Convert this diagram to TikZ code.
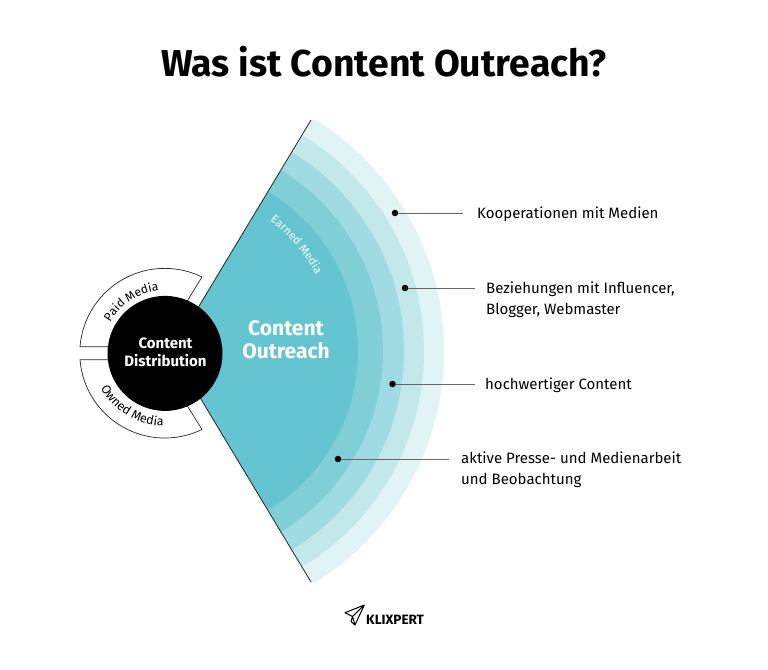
\documentclass[tikz,border=0pt]{standalone}
\usepackage{fontspec}
\setmainfont{Fira Sans}
\usetikzlibrary{decorations.text}
\definecolor{ringa}{HTML}{64C4CF}
\definecolor{ringb}{HTML}{80CFD7}
\definecolor{ringc}{HTML}{A0DBE3}
\definecolor{ringd}{HTML}{C3E8E9}
\definecolor{ringe}{HTML}{E0F3F5}
\tikzset{
  lab/.style={anchor=west,inner sep=0pt,font=\fontsize{15}{21}\selectfont,align=left,text=black},
  dotn/.style={circle,fill=black,inner sep=0pt,minimum size=6.5pt},
  lead/.style={draw=black!60,line width=0.9pt},
  halfring/.style={draw=black!85,fill=white,line width=0.7pt},
  edge/.style={draw=black!85,line width=0.8pt},
}
\begin{document}
\begin{tikzpicture}[x=1pt,y=-1pt]
\useasboundingbox (0,0) rectangle (768,669);
\node[font=\fontsize{37.4}{40}\bfseries\selectfont] (title) at (384,62) {Was ist Content Outreach?};
\coordinate (apex) at (172,351);
\coordinate (outertop) at (311,120);
\coordinate (outerbot) at (311,582);
% wedge rings
\foreach \r/\c in {272/ringe,252/ringd,232/ringc,211/ringb,186/ringa}{
  \begin{scope}
    \clip (apex) -- (outertop) -- ++(200,0) |- (outerbot) -- cycle;
    \fill[\c] (apex) circle[radius=\r];
  \end{scope}
}
\draw[edge] (outertop) -- (apex) -- (outerbot);
% media rings
\coordinate (cc) at (165,353.4);
\draw[halfring] (80,346.7) arc[start angle=-175.5,end angle=-64,radius=85] -- (188.3,299.3) -- (165,346.7) -- cycle;
\draw[halfring] (80,359.7) arc[start angle=175.5,end angle=64,radius=85] -- (188.3,407.5) -- (165,359.7) -- cycle;
\node[circle,fill=black,minimum size=115pt,inner sep=0pt] (dist) at (cc) {};
\node[text=white,align=center,font=\fontsize{15}{17.5}\bfseries\selectfont] (distl) at (165.5,352.5) {Content\\Distribution};
\path[postaction={decorate},decoration={text along path,text align=center,text={|\fontsize{12}{13}\selectfont|Paid Media}}]
  ([shift={(-183:63)}]cc) arc[start angle=-183,end angle=-63,radius=63];
\path[postaction={decorate},decoration={text along path,text align=center,text={|\fontsize{12.5}{13}\selectfont|Owned Media}}]
  ([shift={(181.5:73)}]cc) arc[start angle=181.5,end angle=61.5,radius=73];
\path[postaction={decorate},decoration={text along path,text align=center,text={|\fontsize{11.5}{12}\selectfont\color{white}|Earned Media}}]
  ([shift={(-90:163)}]apex) arc[start angle=-90,end angle=9,radius=163];
\node[text=white,align=center,font=\fontsize{21}{23}\bfseries\selectfont] (outreach) at (286,340) {Content\\Outreach};
% labels
\node[dotn] (d1) at (395,213) {};
\node[dotn] (d2) at (405,288) {};
\node[dotn] (d3) at (392.5,384) {};
\node[dotn] (d4) at (338,459) {};
\coordinate (e1) at (463,213);
\coordinate (e2) at (475,288);
\coordinate (e3) at (475,384);
\coordinate (e4) at (449,459);
\draw[lead] (d1) -- (e1);
\draw[lead] (d2) -- (e2);
\draw[lead] (d3) -- (e3);
\draw[lead] (d4) -- (e4);
\node[lab] (l1) at (477,214) {Kooperationen mit Medien};
\node[lab] (l2) at (486,300) {Beziehungen mit Influencer,\\Blogger, Webmaster};
\node[lab] (l3) at (485,385) {hochwertiger Content};
\node[lab] (l4) at (461,470) {aktive Presse- und Medienarbeit\\und Beobachtung};
% logo
\draw[black,line width=1pt,line join=round] (345,612.7) -- (364.3,605) -- (355,625) -- (352.5,616.5) -- cycle
  (352.5,616.5) -- (364.3,605) (352.5,616.5) -- (351,621.5) -- (355,625);
\node[anchor=west,inner sep=0pt,font=\fontsize{13.5}{14}\bfseries\selectfont] (logo) at (366,619.5) {KLIXPERT};
\end{tikzpicture}
\end{document}
